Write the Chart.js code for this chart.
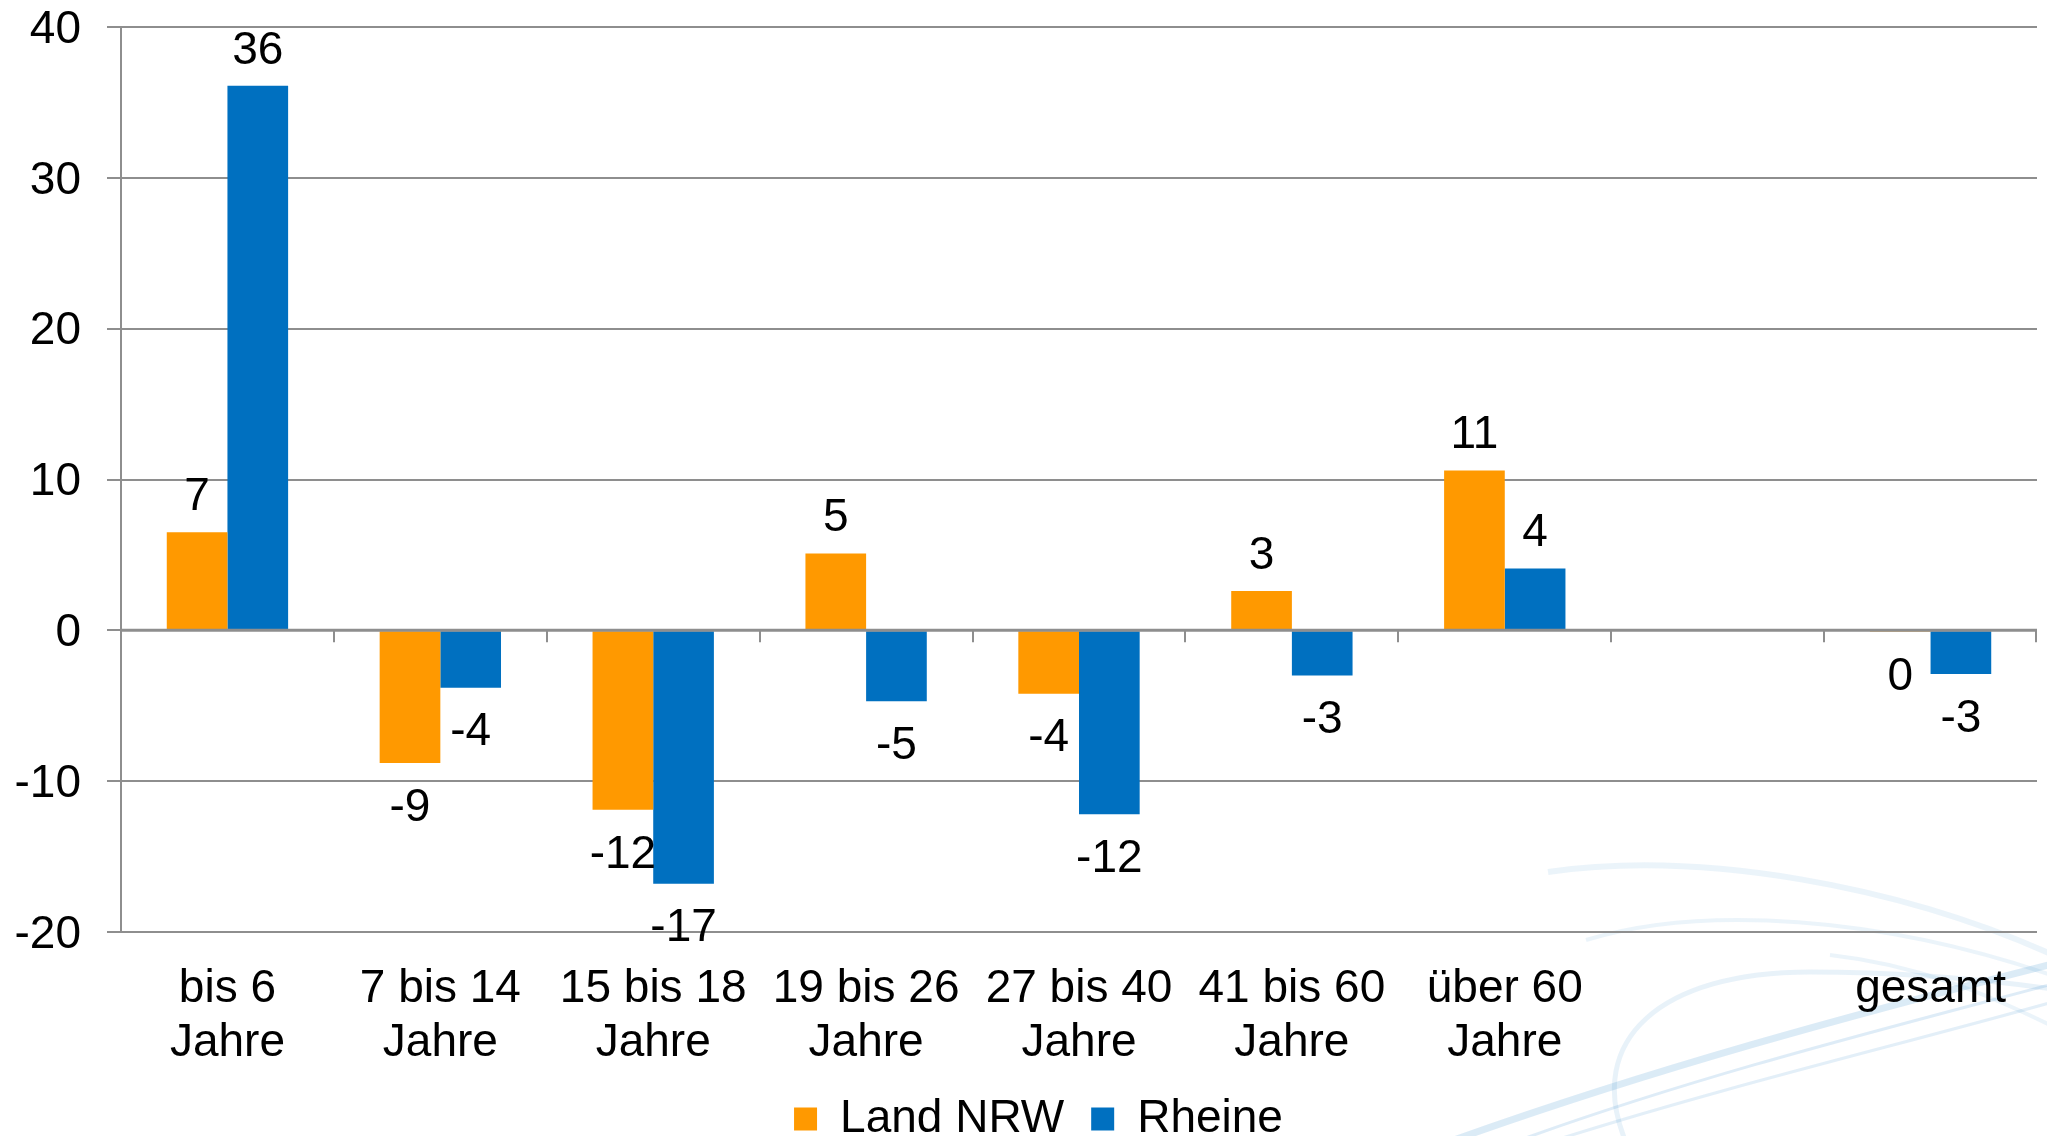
<!DOCTYPE html>
<html>
<head>
<meta charset="utf-8">
<script src="https://cdn.jsdelivr.net/npm/chart.js@4.4.0/dist/chart.umd.min.js"></script>
<style>
  html, body { margin: 0; padding: 0; background: #ffffff; overflow: hidden; }
  #wrap { width: 2047px; height: 1136px; }
</style>
</head>
<body>
<div id="wrap"><canvas id="c" width="2047" height="1136"></canvas></div>
<script>
// ---- data ----
const categories = [
  ["bis 6", "Jahre"],
  ["7 bis 14", "Jahre"],
  ["15 bis 18", "Jahre"],
  ["19 bis 26", "Jahre"],
  ["27 bis 40", "Jahre"],
  ["41 bis 60", "Jahre"],
  ["über 60", "Jahre"],
  "",
  "gesamt"
];
const landNRW = [6.5, -8.8, -11.9, 5.1, -4.2, 2.6, 10.6, null, -0.1];
const rheine  = [36.1, -3.8, -16.8, -4.7, -12.2, -3.0, 4.1, null, -2.9];
const seriesNames = ["Land NRW", "Rheine"];
const yTicks = [-20, -10, 0, 10, 20, 30, 40];

const FONT = "'Liberation Sans', Arial, sans-serif";
const FS = 46;
const GRID = '#8e8e8e';

// background decorative swoosh (each stroke: start point followed by bezier segments)
const swooshPlugin = {
  id: 'swoosh',
  beforeDraw(chart) {
    const ctx = chart.ctx;
    ctx.save();
    ctx.fillStyle = '#ffffff';
    ctx.fillRect(0, 0, chart.width, chart.height);
    ctx.lineCap = 'butt';
    const strokes = [
      {w: 6, c: 'rgba(0,112,192,0.08)', s: [1548, 872], b: [[1700, 850, 1900, 885, 2060, 958]]},
      {w: 4, c: 'rgba(0,112,192,0.08)', s: [1586, 940], b: [[1700, 905, 1880, 915, 2060, 978]]},
      {w: 4, c: 'rgba(0,112,192,0.08)', s: [1830, 955], b: [[1920, 965, 1990, 995, 2060, 1030]]},
      {w: 5, c: 'rgba(0,112,192,0.09)', s: [1625, 1140], b: [[1585, 1040, 1660, 972, 1810, 972], [1900, 972, 1990, 980, 2060, 990]]},
      {w: 7, c: 'rgba(0,112,192,0.14)', s: [1454, 1140], b: [[1650, 1070, 1850, 1015, 2060, 962]]},
      {w: 3, c: 'rgba(0,112,192,0.13)', s: [1520, 1140], b: [[1700, 1075, 1880, 1030, 2060, 982]]},
      {w: 3, c: 'rgba(0,112,192,0.11)', s: [1556, 1140], b: [[1730, 1085, 1900, 1045, 2060, 1000]]}
    ];
    for (const st of strokes) {
      ctx.beginPath();
      ctx.strokeStyle = st.c;
      ctx.lineWidth = st.w;
      ctx.moveTo(st.s[0], st.s[1]);
      for (const b of st.b) ctx.bezierCurveTo(b[0], b[1], b[2], b[3], b[4], b[5]);
      ctx.stroke();
    }
    ctx.restore();
  }
};

// shift legend so it is centred like the original (purely horizontal offset)
const legendShiftPlugin = {
  id: 'legendShift',
  afterLayout(chart) {
    if (chart.legend) chart.legend.left += 40;
  }
};

// zero line with category tick marks + value labels
const overlayPlugin = {
  id: 'overlay',
  afterDatasetsDraw(chart) {
    const ctx = chart.ctx;
    const area = chart.chartArea;
    const y0 = chart.scales.y.getPixelForValue(0);
    ctx.save();
    ctx.strokeStyle = GRID;
    ctx.lineWidth = 3;
    ctx.beginPath();
    ctx.moveTo(area.left, y0);
    ctx.lineTo(area.right, y0);
    ctx.stroke();
    ctx.lineWidth = 2;
    const n = categories.length;
    const w = (area.right - area.left) / n;
    for (let i = 1; i <= n; i++) {
      const x = Math.round(area.left + i * w) - (i === n ? 1 : 0);
      ctx.beginPath();
      ctx.moveTo(x, y0);
      ctx.lineTo(x, y0 + 12);
      ctx.stroke();
    }
    // value labels
    ctx.fillStyle = '#000000';
    ctx.font = FS + 'px ' + FONT;
    ctx.textAlign = 'center';
    ctx.textBaseline = 'middle';
    chart.data.datasets.forEach((ds, di) => {
      const meta = chart.getDatasetMeta(di);
      meta.data.forEach((el, i) => {
        const v = ds.data[i];
        if (v === null || v === undefined) return;
        let r = Math.round(v);
        if (Object.is(r, -0)) r = 0;
        const y = v >= 0 ? el.y - 35 : el.y + 45;
        ctx.fillText(String(r), el.x, y);
      });
    });
    ctx.restore();
  }
};

new Chart(document.getElementById('c'), {
  type: 'bar',
  data: {
    labels: categories,
    datasets: [
      { label: seriesNames[0], data: landNRW, backgroundColor: '#FF9900', borderWidth: 0 },
      { label: seriesNames[1], data: rheine, backgroundColor: '#0070C0', borderWidth: 0 }
    ]
  },
  options: {
    responsive: false,
    devicePixelRatio: 1,
    animation: false,
    layout: { padding: { left: 0, right: 10, top: 27, bottom: -16 } },
    datasets: { bar: { categoryPercentage: 0.57, barPercentage: 1.0 } },
    plugins: {
      tooltip: { enabled: false },
      legend: {
        position: 'bottom',
        labels: {
          font: { family: FONT, size: FS },
          color: '#000000',
          boxWidth: 23,
          boxHeight: 23,
          padding: 27
        }
      }
    },
    scales: {
      x: {
        type: 'category',
        grid: { display: false, drawTicks: false },
        border: { display: false },
        afterFit(scale) { scale.height = 137; },
        ticks: {
          font: { family: FONT, size: FS, lineHeight: 1.16 },
          color: '#000000',
          padding: 31,
          maxRotation: 0,
          autoSkip: false
        }
      },
      y: {
        min: -20,
        max: 40,
        afterBuildTicks(scale) { scale.ticks = yTicks.map(v => ({ value: v })); },
        afterFit(scale) {
          scale.width = 121;
          scale.paddingTop = 0;
          scale.paddingBottom = 0;
        },
        grid: {
          color: GRID,
          lineWidth: 2,
          tickLength: 14,
          tickColor: GRID
        },
        border: { display: true, color: GRID, width: 2 },
        ticks: {
          font: { family: FONT, size: FS },
          color: '#000000',
          padding: 26,
          labelOffset: 3,
          callback: (v) => String(v)
        }
      }
    }
  },
  plugins: [swooshPlugin, legendShiftPlugin, overlayPlugin]
});
</script>
</body>
</html>
